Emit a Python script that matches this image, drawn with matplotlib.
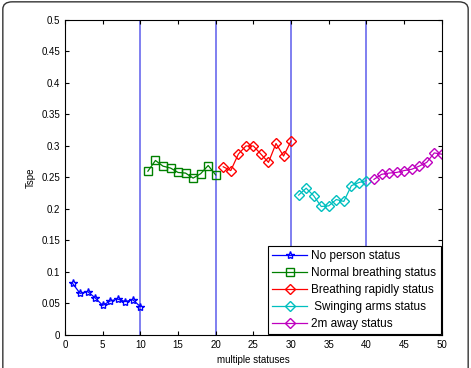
import matplotlib
matplotlib.use('Agg')
import matplotlib.pyplot as plt
from matplotlib.patches import FancyBboxPatch

plt.rcParams['font.family'] = ['Liberation Sans', 'DejaVu Sans']

x_none = list(range(1, 11))
y_none = [0.082, 0.066, 0.069, 0.059, 0.047, 0.054, 0.057, 0.053, 0.056, 0.045]
x_normal = list(range(11, 21))
y_normal = [0.260, 0.277, 0.268, 0.265, 0.258, 0.257, 0.249, 0.256, 0.269, 0.254]
x_rapid = list(range(21, 31))
y_rapid = [0.267, 0.261, 0.287, 0.300, 0.300, 0.287, 0.274, 0.304, 0.284, 0.308]
x_swing = list(range(31, 41))
y_swing = [0.222, 0.233, 0.221, 0.204, 0.205, 0.215, 0.212, 0.237, 0.242, 0.245]
x_away = list(range(41, 51))
y_away = [0.247, 0.255, 0.257, 0.258, 0.261, 0.263, 0.268, 0.274, 0.289, 0.287]

labels = ['No person status', 'Normal breathing status', 'Breathing rapidly status',
          ' Swinging arms status', '2m away status']
boundaries = [10, 20, 30, 40]

fig = plt.figure(figsize=(4.71, 3.68), dpi=100)
ax = fig.add_axes([0.138, 0.0897, 0.800, 0.856])

# rounded frame around the whole figure (bottom edge is cut off)
fig.patches.append(FancyBboxPatch((0.006, -0.05), 0.988, 1.045,
                                  boxstyle='round,pad=0,rounding_size=0.02',
                                  transform=fig.transFigure, fill=False,
                                  edgecolor='#333333', linewidth=1.0))

ax.plot(x_none, y_none, '-*', color='#0000ff', mfc='none', ms=6, lw=0.9, label=labels[0])
ax.plot(x_normal, y_normal, '-s', color='#008000', mfc='none', ms=5.5, lw=0.9, label=labels[1])
ax.plot(x_rapid, y_rapid, '-D', color='#ff0000', mfc='none', ms=5, lw=0.9, label=labels[2])
ax.plot(x_swing, y_swing, '-D', color='#00bfbf', mfc='none', ms=5, lw=0.9, label=labels[3])
ax.plot(x_away, y_away, '-D', color='#bf00bf', mfc='none', ms=5, lw=0.9, label=labels[4])

for b in boundaries:
    ax.axvline(b, color='#6a6aee', lw=1.2, zorder=0)

ax.set_xlim(0, 50)
ax.set_ylim(0, 0.5)
ax.set_xticks(range(0, 51, 5))
ax.set_yticks([i * 0.05 for i in range(11)])
ax.set_yticklabels(['0', '0.05', '0.1', '0.15', '0.2', '0.25', '0.3', '0.35', '0.4', '0.45', '0.5'])
ax.tick_params(labelsize=7, direction='in', length=3, top=True, right=True)
ax.set_xlabel('multiple statuses', fontsize=7, labelpad=4)
ax.set_ylabel('Tspe', fontsize=7)

leg = ax.legend(loc='lower right', fontsize=8.5, handlelength=3.0, handletextpad=0.35,
                fancybox=False, edgecolor='black', framealpha=1, borderaxespad=0.1,
                labelspacing=0.42, borderpad=0.35)
leg.get_frame().set_linewidth(0.8)

fig.savefig('out.png', dpi=100)
